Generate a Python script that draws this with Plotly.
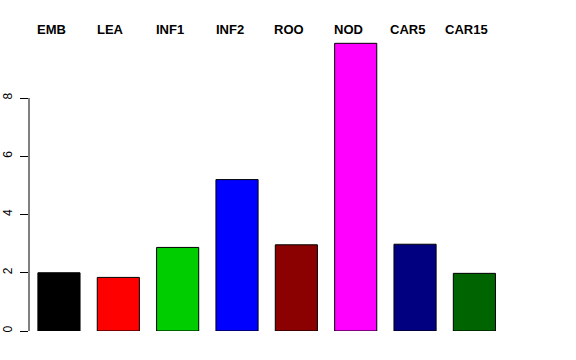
import plotly.graph_objects as go

categories = ["EMB", "LEA", "INF1", "INF2", "ROO", "NOD", "CAR5", "CAR15"]
values = [2.0, 1.84, 2.87, 5.2, 2.96, 9.88, 2.98, 1.98]
colors = ["#000000", "#FF0000", "#00CD00", "#0000FF", "#8B0000", "#FF00FF", "#000080", "#006400"]
y_ticks = [0, 2, 4, 6, 8]

fig = go.Figure()
fig.add_trace(go.Bar(
    x=categories, y=values,
    marker=dict(color=colors, line=dict(color="black", width=1)),
))

for c in categories:
    fig.add_annotation(x=c, y=1, yref="paper", text="<b>%s</b>" % c,
                       showarrow=False, xanchor="center", yanchor="middle", yshift=5, xshift=-7.5,
                       font=dict(family="Liberation Sans, Arial, sans-serif", size=13, color="black"))

# y axis line from 0 to 8 only (R style)
fig.add_shape(type="line", xref="paper", yref="y", x0=0, x1=0, y0=0, y1=8,
              line=dict(color="black", width=1))

fig.update_layout(
    width=576, height=360,
    margin=dict(l=29, r=66, t=34, b=29, autoexpand=False),
    plot_bgcolor="white", paper_bgcolor="white",
    bargap=0.29, showlegend=False,
    font=dict(family="Liberation Sans, Arial, sans-serif", size=11, color="black"),
    xaxis=dict(range=[-0.505, 7.6], showticklabels=False, showgrid=False,
               zeroline=False, showline=False, ticks="", automargin=False),
    yaxis=dict(range=[0, 10.2], tickvals=y_ticks, showgrid=False, zeroline=False,
               showline=False, ticks="outside", ticklen=8, tickcolor="black",
               tickangle=-90, tickfont=dict(size=12), ticklabelstandoff=3,
               automargin=False),
)

fig.write_html("out.html", config={"displayModeBar": False},
               post_script="document.body.style.margin='0';document.body.style.overflow='hidden';")
